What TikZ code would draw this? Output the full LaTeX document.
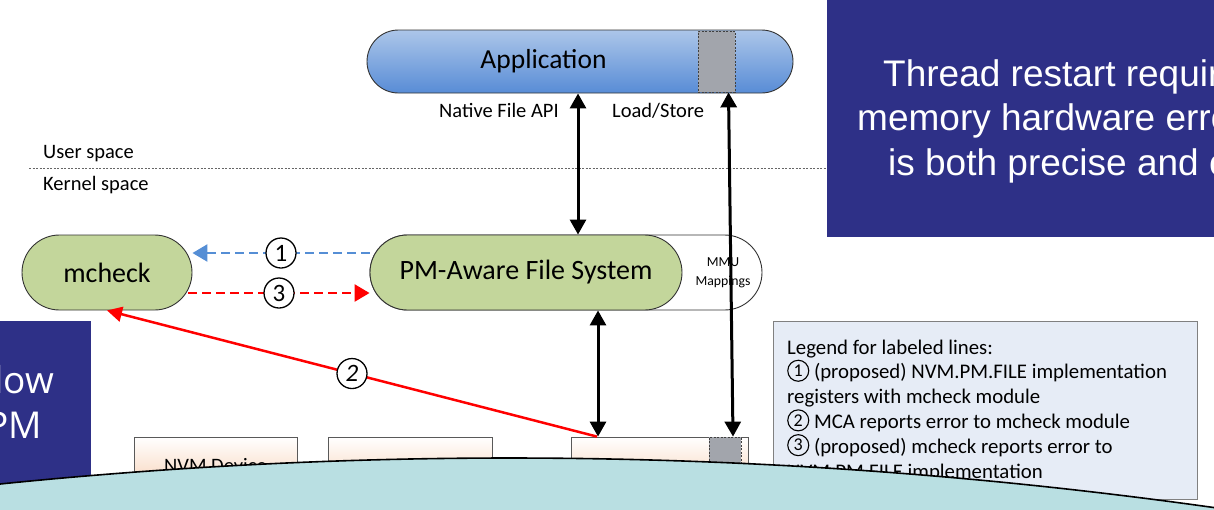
\documentclass[tikz,border=0pt]{standalone}
\usepackage{fontspec}
\setmainfont{Carlito}
\newfontfamily\slidefont{Liberation Sans}
\newfontfamily\segfont{Open Sans}
\usetikzlibrary{arrows.meta,positioning}

\definecolor{appTop}{RGB}{172,198,233}
\definecolor{appBot}{RGB}{88,140,214}
\definecolor{fsGreen}{RGB}{195,214,155}
\definecolor{slideBlue}{RGB}{46,48,135}
\definecolor{lineBlue}{RGB}{85,142,213}
\definecolor{legendBg}{RGB}{230,236,246}
\definecolor{seaTeal}{RGB}{185,223,226}
\definecolor{devPeach}{RGB}{247,205,175}
\definecolor{winGray}{RGB}{162,165,172}

% circled number inside the legend
\newcommand{\circled}[1]{\tikz[baseline=3pt]\node[circle, draw, line width=1.1pt,
  minimum size=21pt, inner sep=0pt, anchor=south,
  font=\fontsize{18}{18}\selectfont] at (0,0) {#1};}

\begin{document}
\begin{tikzpicture}[
  x=1pt, y=-1pt,
  pill/.style={draw=black!80, line width=0.9pt, inner sep=0pt,
    minimum height=75pt, rounded corners=37.5pt},
  devbox/.style={draw=black!65, line width=0.8pt, top color=white,
    bottom color=devPeach, minimum height=58pt, inner sep=0pt},
  winbox/.style={draw=black!75, dash pattern=on 2pt off 1.5pt,
    line width=0.8pt, fill=winGray, inner sep=0pt},
  bigarrow/.style={{Triangle[length=15pt,width=16pt]}-{Triangle[length=15pt,width=16pt]},
    line width=3pt},
  msgline/.style={line width=2.5pt, dash pattern=on 9pt off 5pt,
    -{Triangle[length=15pt,width=17pt]}},
  circnum/.style={circle, draw=black, solid, line width=1.3pt, fill=white,
    text=black, minimum size=30pt, inner sep=0pt,
    font=\fontsize{25}{25}\selectfont},
  legtext/.style={anchor=base west, inner sep=0pt,
    font=\fontsize{20.8}{20.8}\selectfont},
  smalltext/.style={anchor=base west, inner sep=0pt,
    font=\fontsize{20.5}{20.5}\selectfont}
]
\useasboundingbox (0,0) rectangle (1214,509);
\clip (0,0) rectangle (1214,509);

% user / kernel split
\draw[black!60, dash pattern=on 2pt off 1.5pt, line width=0.8pt] (29,168) -- (827,168);
\node[smalltext] (user) at (43,158) {User space};
\node[smalltext] (kernel) at (43,190) {Kernel space};

% slide box, top right
\fill[slideBlue] (827,-5) rectangle (1230,237);
\foreach \k/\x/\y/\t in {1/883/86/Thread restart requir,
                         2/857/130.5/memory hardware erro,
                         3/888/175/is both precise and c} {
  \node[anchor=base west, inner sep=0pt, text=white,
        font=\slidefont\fontsize{37}{37}\selectfont] (thr\k) at (\x,\y) {\t};
}

% application
\node[pill, minimum width=426pt, minimum height=63pt, rounded corners=31.5pt,
      top color=appTop, bottom color=appBot] (app) at (580,61.5) {};
\node[font=\fontsize{27.5}{27.5}\selectfont] (apptxt) at (543.5,61.5) {Application};
\node[winbox, minimum width=37pt, minimum height=61pt] (appwin) at (716.5,61.5) {};
\node[smalltext] (api) at (439,117) {Native File API};
\node[smalltext] (ldst) at (612,117) {Load/Store};

% kernel side
\node[pill, fill=white, minimum width=392pt] (mmu) at (566,272.5) {};
\node[align=center, font=\fontsize{13.75}{19}\selectfont] (mmutxt) at (723,272.5) {MMU\\Mappings};
\node[pill, fill=fsGreen, minimum width=312pt, font=\fontsize{28}{28}\selectfont]
  (pmfs) at (526,272.5) {PM-Aware File System};
\node[pill, fill=fsGreen, minimum width=170pt, font=\fontsize{28}{28}\selectfont]
  (mcheck) at (107,272.5) {mcheck};

% devices
\foreach \n/\cx/\w/\t in {1/215.5/163/NVM Device, 2/410/164/, 3/659.5/177/} {
  \node[devbox, minimum width=\w pt, font=\fontsize{20.5}{20.5}\selectfont]
    (dev\n) at (\cx,466) {\t};
}
\node[winbox, minimum width=32pt, minimum height=58pt] (devwin) at (725,466) {};

% connectors
\draw[bigarrow] ([xshift=-2pt]app.south) -- ([xshift=52pt]pmfs.north);
\draw[bigarrow] ([xshift=72pt]pmfs.south) -- ([xshift=-61.5pt]dev3.north);
\draw[bigarrow] ([xshift=12pt]appwin.south) -- ([xshift=8pt]devwin.north);
\draw[msgline, lineBlue] ([yshift=19.5pt]pmfs.west) -- ([yshift=19.5pt]mcheck.east)
  node[midway, circnum] (lab1) {1};
\draw[msgline, red] ([yshift=-20.5pt,xshift=-4pt]mcheck.east) -- ([yshift=-20.5pt]pmfs.west)
  node[midway, circnum] (lab3) {3};
\draw[red, line width=2.5pt, -{Triangle[length=15pt,width=15pt]}]
  ([xshift=-62.5pt]dev3.north) -- (mcheck.south)
  node[midway, circnum, font=\fontsize{25}{25}\selectfont\itshape] (lab2) {2};

% legend
\node[draw=black!50, line width=0.8pt, fill=legendBg, inner sep=0pt,
      minimum width=424pt, minimum height=178pt] (legend) at (985,410) {};
\foreach \t [count=\k] in {{Legend for labeled lines:},
    {\circled{1} (proposed) NVM.PM.FILE implementation},
    {registers with mcheck module},
    {\circled{2} MCA reports error to mcheck module},
    {\circled{3} (proposed) mcheck reports error to},
    {NVM.PM.FILE implementation}} {
  \node[legtext] (leg\k) at (787,{354+24.8*(\k-1)}) {\t};
}

% slide box, lower left
\fill[slideBlue] (-5,321) rectangle (91,530);
\node[anchor=base east, inner sep=0pt, text=white,
      font=\segfont\fontsize{37}{37}\selectfont] (low) at (54,393) {low};
\node[anchor=base east, inner sep=0pt, text=white,
      font=\segfont\fontsize{37}{37}\selectfont] (pm) at (42,438) {PM};

% overlapping shape at the bottom
\filldraw[fill=seaTeal, draw=black, line width=1.6pt]
  plot[domain=-10:1230, samples=60] (\x, {458+((\x-510)/100)^2})
  -- (1230,530) -- (-10,530) -- cycle;

\end{tikzpicture}
\end{document}
